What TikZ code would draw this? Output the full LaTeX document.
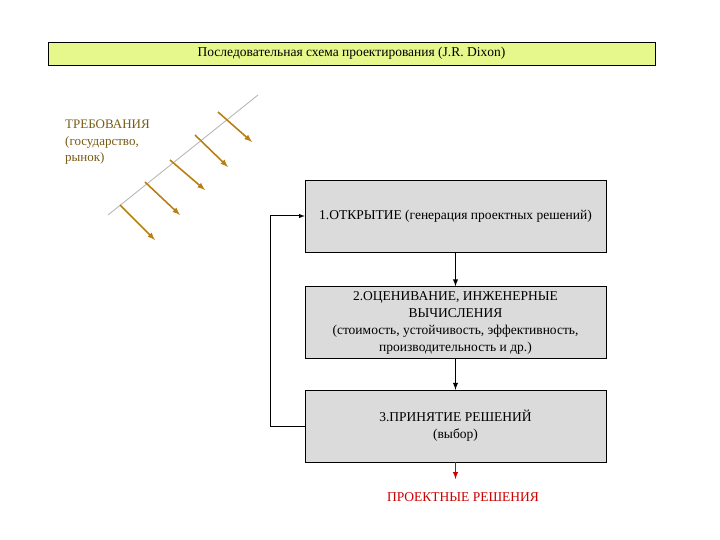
\documentclass[tikz,border=0pt]{standalone}
\usepackage{fontspec}
\setmainfont{Liberation Serif}
\definecolor{titlegreen}{RGB}{230,248,140}
\definecolor{gold}{RGB}{184,128,20}
\definecolor{reqtext}{RGB}{120,90,20}
\begin{document}
\begin{tikzpicture}[x=1pt,y=-1pt,
  box/.style={draw=black,fill=gray!28,minimum width=301pt,minimum height=72pt,inner sep=0pt,align=center,font=\fontsize{13.5}{17}\selectfont},
  req/.style={draw=gold,line width=1.6pt,-latex},
  conn/.style={draw=black,line width=1.4pt,-latex}]
\useasboundingbox (0,0) rectangle (720,540);
\node[draw=black,fill=titlegreen,minimum width=607pt,minimum height=23pt,inner sep=0pt,font=\fontsize{13.5}{15}\selectfont] (title) at (351.5,53.5) {Последовательная схема проектирования (J.R. Dixon)};
\coordinate (l1) at (108,215); \coordinate (l2) at (258,95);
\draw[gray!60,line width=0.8pt] (l1) -- (l2);
\foreach \i/\a/\b/\c/\d in {1/120/205/155/240,2/145/182/180/215,3/170/160/205/190,4/195/135/228/167,5/218/112/252/142}{
  \coordinate (s\i) at (\a,\b); \coordinate (e\i) at (\c,\d);
  \draw[req] (s\i) -- (e\i);}
\node[anchor=north west,align=left,text=reqtext,font=\fontsize{13}{16.5}\selectfont,inner sep=0pt] (req) at (65,120) {ТРЕБОВАНИЯ\\(государство,\\рынок)};
\node[box] (b1) at (455.5,216) {1.ОТКРЫТИЕ (генерация проектных решений)};
\node[box] (b2) at (455.5,322.5) {2.ОЦЕНИВАНИЕ, ИНЖЕНЕРНЫЕ\\ВЫЧИСЛЕНИЯ\\(стоимость, устойчивость, эффективность,\\производительность и др.)};
\node[box] (b3) at (455.5,426) {3.ПРИНЯТИЕ РЕШЕНИЙ\\(выбор)};
\draw[conn] (b1) -- (b2);
\draw[conn] (b2) -- (b3);
\coordinate (c1) at (270,426); \coordinate (c2) at (270,216);
\draw[line width=1pt,-latex] (b3.west) -- (c1) -- (c2) -- (b1.west);
\node[text=red!80!black,font=\fontsize{13.5}{15}\selectfont] (out) at (463,497) {ПРОЕКТНЫЕ РЕШЕНИЯ};
\coordinate (o1) at (455.5,479);
\draw[red!80!black,line width=1.4pt,-latex] (b3.south) -- (o1);
\end{tikzpicture}
\end{document}
